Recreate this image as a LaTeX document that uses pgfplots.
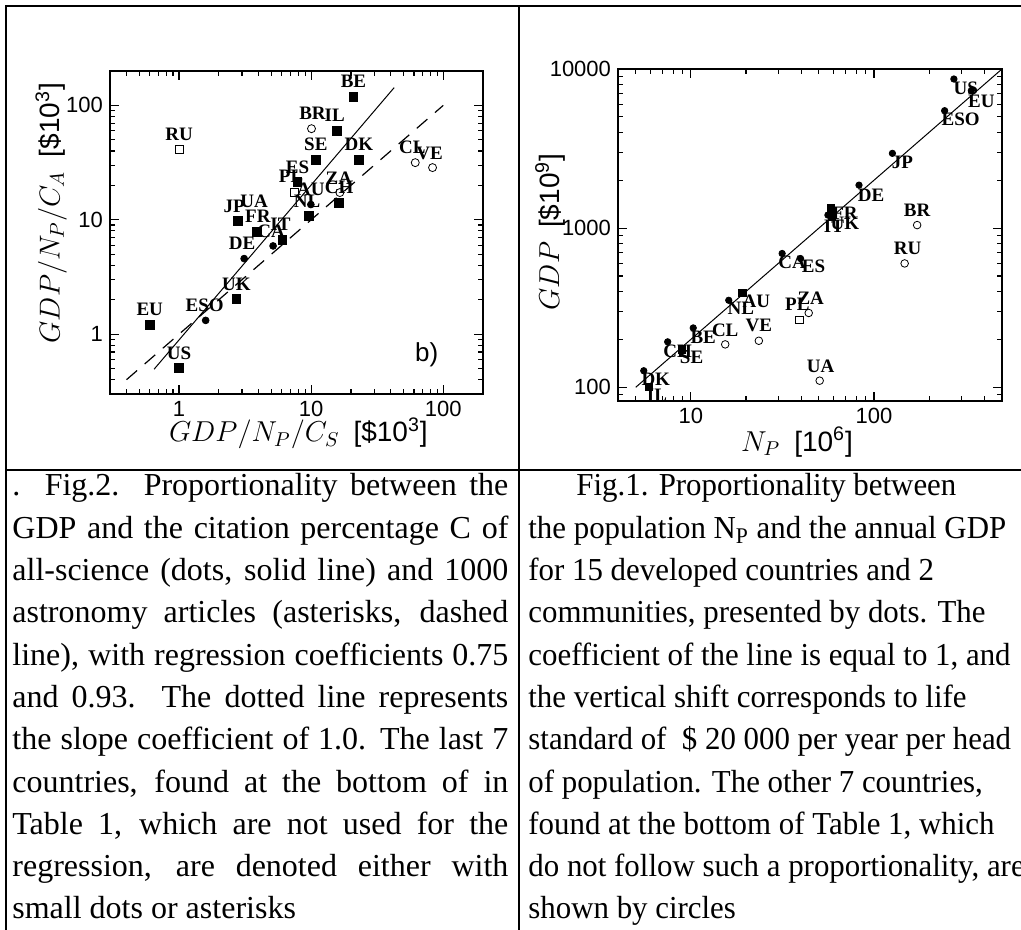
\documentclass[border=0pt]{standalone}
\usepackage{fontspec}
\setmainfont{Liberation Serif}
\newfontfamily\lsans{Liberation Sans}
\usepackage{pgfplots}
\pgfplotsset{compat=1.18}

\newcommand\capfont{\fontsize{16}{21}\selectfont}
\newcommand\lblfont{\bfseries\fontsize{9.5}{10}\selectfont}
% label centred at a data point, shifted by (dx,dy) image pixels (dy downwards)
\newcommand\lab[5]{\node[font=\lblfont, inner sep=0pt, xshift={(#4)*0.5pt}, yshift={-(#5)*0.5pt}] at (axis cs:#1,#2) {#3};}
\newcommand\jl[2]{\node[anchor=base west, inner sep=0pt, font=\capfont] at (6pt,#1pt) {\makebox[248pt][s]{#2}};}
\newcommand\rl[3]{\node[anchor=base west, inner sep=0pt, font=\capfont] at (#1pt,#2pt) {\scalebox{0.965}[1]{#3}};}

\begin{document}
\begin{tikzpicture}
\useasboundingbox (0,0) rectangle (510.5pt,465pt);

% table frame
\draw[line width=1pt] (3pt,0pt) -- (3pt,462pt) -- (510.5pt,462pt);
\draw[line width=1pt] (259.5pt,0pt) -- (259.5pt,462pt);
\draw[line width=1pt] (3pt,230pt) -- (510.5pt,230pt);

% Fig. 2 (left)
\begin{axis}[xmode=log, ymode=log, scale only axis, clip=false,
  axis line style={line width=0.9pt},
  every tick/.style={black, line width=0.6pt},
  major tick length=4.5pt, minor tick length=2.5pt, tick align=inside,
  tick label style={font=\lsans\fontsize{11}{12}\selectfont},
  at={(55pt,268pt)}, anchor=south west, width=186.5pt, height=161.5pt,
  xmin=0.3, xmax=200, ymin=0.3, ymax=200,
  xtick={1,10,100}, xticklabels={1,10,100},
  ytick={1,10,100}, yticklabels={1,10,100},
  minor xtick={0.4,0.5,0.6,0.7,0.8,0.9,2,3,4,5,6,7,8,9,20,30,40,50,60,70,80,90},
  minor ytick={0.4,0.5,0.6,0.7,0.8,0.9,2,3,4,5,6,7,8,9,20,30,40,50,60,70,80,90}]
\addplot[black, line width=0.5pt] coordinates {(0.647,0.494) (42.5,143)};
\addplot[black, line width=0.6pt, dash pattern=on 7pt off 5pt] coordinates {(0.4,0.4) (100,100)};
% all-science, filled squares
\addplot[only marks, mark=square*, mark size=2.2pt, black] coordinates {
 (20.9,119) (15.6,60.1) (10.85,33.5) (23.0,33.5) (7.88,21.4) (9.66,10.8) (16.3,14.1)
 (2.80,9.77) (3.88,7.89) (6.06,6.66) (2.72,2.02) (0.60,1.21) (1.0,0.505)};
% filled dots
\addplot[only marks, mark=*, mark size=1.7pt, black] coordinates {
 (5.15,5.91) (3.11,4.58) (9.95,13.6) (1.59,1.32)};
% open symbols
\addplot[only marks, mark=square, mark size=2pt, black] coordinates {(1.0,41.5) (7.43,17.5)};
\addplot[only marks, mark=o, mark size=2pt, black] coordinates {
 (10.06,62.6) (61.4,31.6) (83.0,28.6) (16.5,17.3)};
\lab{20.9}{119}{BE}{0}{-15}
\lab{10.06}{62.6}{BR}{1}{-15}
\lab{15.6}{60.1}{IL}{-2}{-15}
\lab{1.0}{41.5}{RU}{0}{-15}
\lab{10.85}{33.5}{SE}{0}{-15}
\lab{23.0}{33.5}{DK}{0}{-15}
\lab{61.4}{31.6}{CL}{-3}{-15}
\lab{83.0}{28.6}{VE}{-3}{-14}
\lab{7.88}{21.4}{ES}{0}{-15}
\lab{7.43}{17.5}{PL}{-3}{-16}
\lab{9.95}{13.6}{AU}{0}{-15}
\lab{9.66}{10.8}{NL}{-2}{-15}
\lab{16.5}{17.3}{ZA}{-1}{-14}
\lab{16.3}{14.1}{CH}{0}{-15}
\lab{2.80}{9.77}{JP}{-4}{-15}
\lab{3.7}{14.6}{UA}{0}{0}
\lab{3.88}{7.89}{FR}{1}{-15}
\lab{5.15}{5.91}{CA}{-2}{-15}
\lab{6.06}{6.66}{IT}{-2}{-16}
\lab{3.11}{4.58}{DE}{-2}{-15}
\lab{2.72}{2.02}{UK}{0}{-15}
\lab{1.59}{1.32}{ESO}{-1}{-15}
\lab{0.60}{1.21}{EU}{0}{-15}
\lab{1.0}{0.505}{US}{0}{-15}
\node[font=\lsans\fontsize{13}{14}\selectfont] at (axis cs:75,0.66) {b)};
\node[font=\fontsize{14}{16}\selectfont] at (rel axis cs:0.505,-0.122) {$GDP/N_P/C_S$\ \ {\lsans[\$10\textsuperscript{3}]}};
\node[rotate=90, font=\fontsize{14}{16}\selectfont] at (rel axis cs:-0.158,0.56) {$GDP/N_P/C_A$\ \ {\lsans[\$10\textsuperscript{3}]}};
\end{axis}

% Fig. 1 (right)
\begin{axis}[xmode=log, ymode=log, scale only axis, clip=false,
  axis line style={line width=0.9pt},
  every tick/.style={black, line width=0.6pt},
  major tick length=4.5pt, minor tick length=2.5pt, tick align=inside,
  tick label style={font=\lsans\fontsize{11}{12}\selectfont},
  at={(309pt,264.5pt)}, anchor=south west, width=192pt, height=166pt,
  xmin=4, xmax=500, ymin=82, ymax=10000,
  xtick={10,100}, xticklabels={10,100},
  ytick={100,1000,10000}, yticklabels={100,1000,10000},
  minor xtick={5,6,7,8,9,20,30,40,50,60,70,80,90,200,300,400},
  minor ytick={90,200,300,400,500,600,700,800,900,2000,3000,4000,5000,6000,7000,8000,9000}]
\addplot[black, line width=0.5pt] coordinates {(5,100) (500,10000)};
% developed countries and communities
\addplot[only marks, mark=*, mark size=1.6pt, black] coordinates {
 (273,8650) (340,7310) (243,5470) (126,2950) (82.8,1863) (56,1208) (31.5,693)
 (39.7,644) (16.1,352) (10.3,236) (7.47,193) (5.53,127)};
\addplot[only marks, mark=square*, mark size=1.8pt, black] coordinates {
 (58.2,1330) (58.9,1178) (19.1,392) (8.9,173) (5.9,100)};
% other countries
\addplot[only marks, mark=o, mark size=1.9pt, black] coordinates {
 (172,1045) (147,600) (44,293) (23.5,196) (15.4,186) (50.5,110)};
\addplot[only marks, mark=square, mark size=1.8pt, black] coordinates {(39.1,264)};
\lab{273}{8650}{US}{12}{9}
\lab{340}{7310}{EU}{10}{11}
\lab{243}{5470}{ESO}{16}{9}
\lab{126}{2950}{JP}{10}{9}
\lab{82.8}{1863}{DE}{12}{10}
\lab{58.2}{1330}{FR}{14}{5}
\lab{56}{1208}{UK}{17}{8}
\lab{58.9}{1178}{IT}{2}{9}
\lab{172}{1045}{BR}{0}{-15}
\lab{147}{600}{RU}{3}{-15}
\lab{31.5}{693}{CA}{10}{9}
\lab{39.7}{644}{ES}{13}{8}
\lab{19.1}{392}{AU}{14}{8}
\lab{16.1}{352}{NL}{12}{8}
\lab{44}{293}{ZA}{2}{-15}
\lab{39.1}{264}{PL}{-2}{-16}
\lab{23.5}{196}{VE}{0}{-15}
\lab{15.4}{186}{CL}{0}{-14}
\lab{10.3}{236}{BE}{10}{9}
\lab{7.47}{193}{CH}{10}{9}
\lab{8.9}{173}{SE}{10}{8}
\lab{5.53}{127}{DK}{12}{9}
\lab{5.9}{100}{IL}{8}{8}
\lab{50.5}{110}{UA}{1}{-14}
\node[font=\fontsize{14}{16}\selectfont] at (rel axis cs:0.466,-0.124) {$N_P$\ \ {\lsans[10\textsuperscript{6}]}};
\node[rotate=90, font=\fontsize{14}{16}\selectfont] at (rel axis cs:-0.177,0.509) {$GDP$\ \ {\lsans[\$10\textsuperscript{9}]}};
\end{axis}

% captions
\jl{217}{. Fig.2. Proportionality between the}
\jl{195.85}{GDP and the citation percentage C of}
\jl{174.7}{all-science (dots, solid line) and 1000}
\jl{153.55}{astronomy articles (asterisks, dashed}
\jl{132.4}{line), with regression coefficients 0.75}
\jl{111.25}{and 0.93. The dotted line represents}
\jl{90.1}{the slope coefficient of 1.0. The last 7}
\jl{68.95}{countries, found at the bottom of in}
\jl{47.8}{Table 1, which are not used for the}
\jl{26.65}{regression, are denoted either with}
\node[anchor=base west, inner sep=0pt, font=\capfont] at (6pt,5.5pt) {small dots or asterisks};

\rl{288}{217}{Fig.1. Proportionality between}
\rl{264}{195.85}{the population N\textsubscript{P} and the annual GDP}
\rl{264}{174.7}{for 15 developed countries and 2}
\rl{264}{153.55}{communities, presented by dots. The}
\rl{264}{132.4}{coefficient of the line is equal to 1, and}
\rl{264}{111.25}{the vertical shift corresponds to life}
\rl{264}{90.1}{standard of \ \$ 20 000 per year per head}
\rl{264}{68.95}{of population. The other 7 countries,}
\rl{264}{47.8}{found at the bottom of Table 1, which}
\rl{264}{26.65}{do not follow such a proportionality, are}
\rl{264}{5.5}{shown by circles}
\end{tikzpicture}
\end{document}
